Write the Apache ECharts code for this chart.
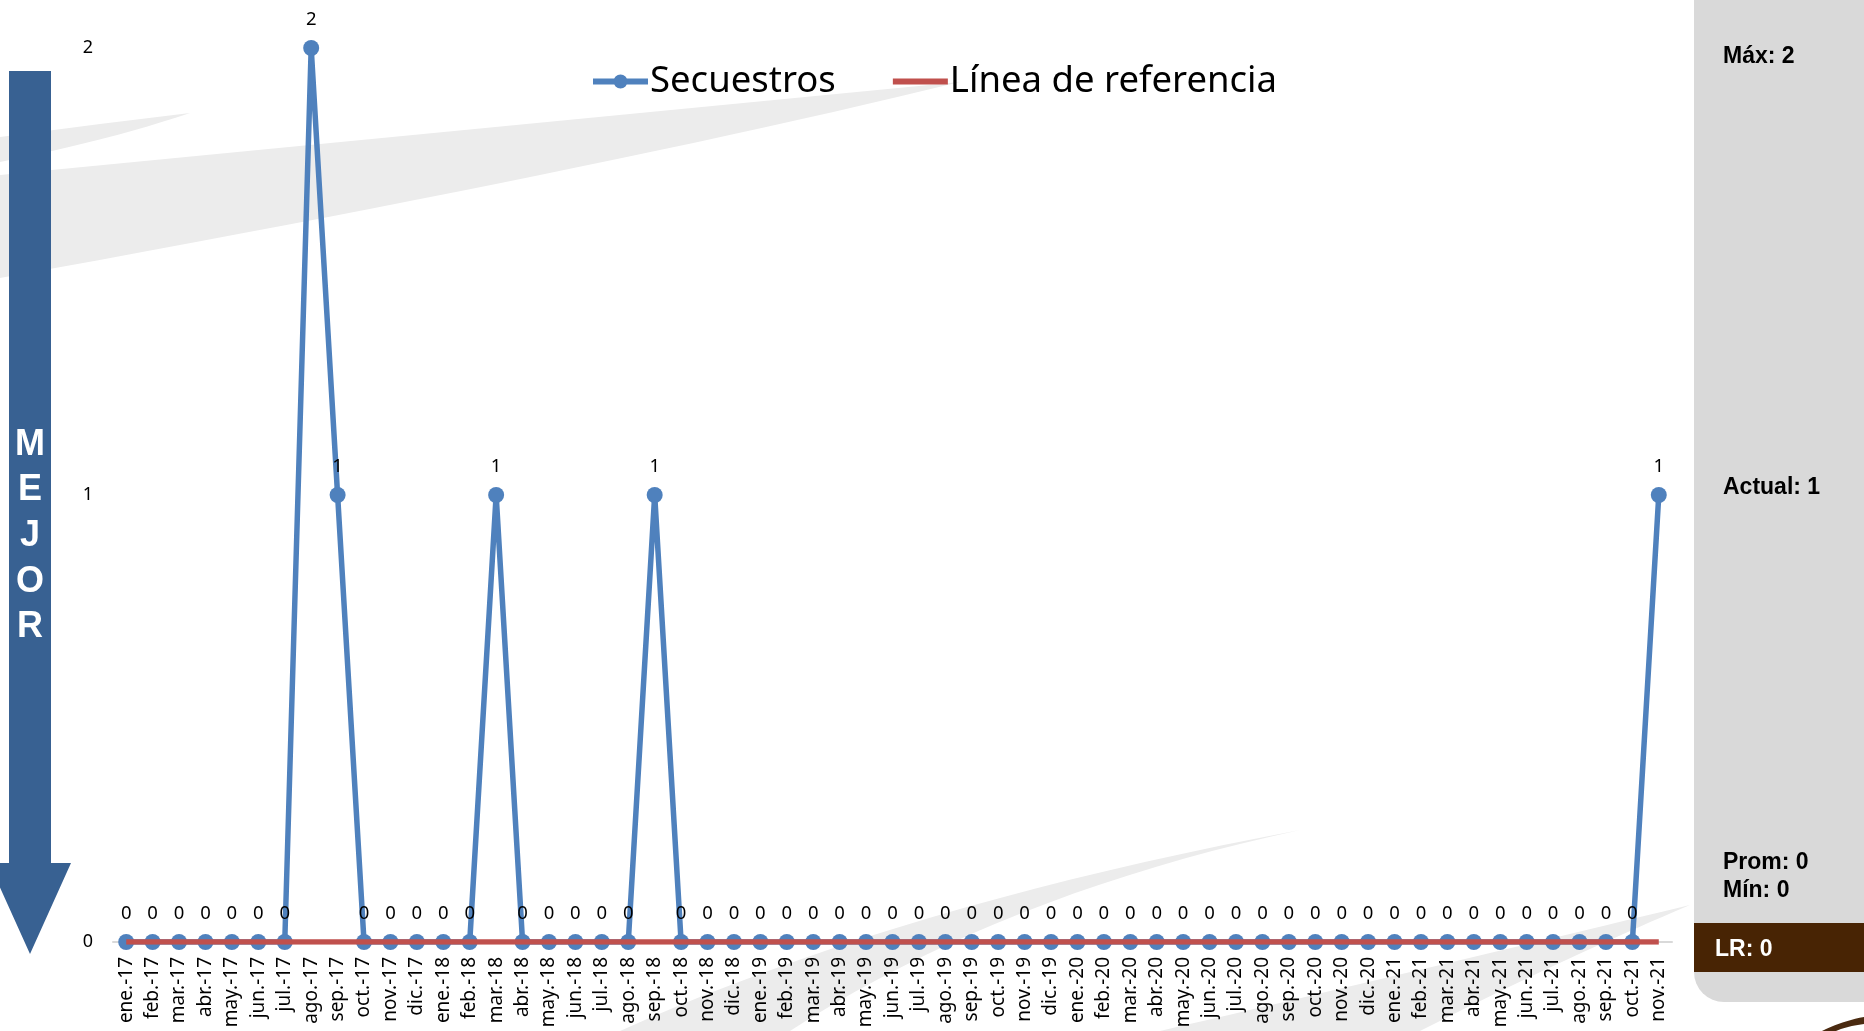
<!DOCTYPE html>
<html>
<head>
<meta charset="utf-8">
<script src="https://cdn.jsdelivr.net/npm/echarts@6.0.0/dist/echarts.min.js"></script>
<style>
html,body{margin:0;padding:0;background:#fff;}
#chart{width:1864px;height:1031px;}
</style>
</head>
<body>
<div id="chart"></div>
<script>
const categories = [
  'ene.-17','feb.-17','mar.-17','abr.-17','may.-17','jun.-17','jul.-17','ago.-17','sep.-17','oct.-17','nov.-17','dic.-17',
  'ene.-18','feb.-18','mar.-18','abr.-18','may.-18','jun.-18','jul.-18','ago.-18','sep.-18','oct.-18','nov.-18','dic.-18',
  'ene.-19','feb.-19','mar.-19','abr.-19','may.-19','jun.-19','jul.-19','ago.-19','sep.-19','oct.-19','nov.-19','dic.-19',
  'ene.-20','feb.-20','mar.-20','abr.-20','may.-20','jun.-20','jul.-20','ago.-20','sep.-20','oct.-20','nov.-20','dic.-20',
  'ene.-21','feb.-21','mar.-21','abr.-21','may.-21','jun.-21','jul.-21','ago.-21','sep.-21','oct.-21','nov.-21'
];
const secuestros = [
  0,0,0,0,0,0,0,2,1,0,0,0,
  0,0,1,0,0,0,0,0,1,0,0,0,
  0,0,0,0,0,0,0,0,0,0,0,0,
  0,0,0,0,0,0,0,0,0,0,0,0,
  0,0,0,0,0,0,0,0,0,0,1
];
const referencia = [
  0,0,0,0,0,0,0,0,0,0,0,0,
  0,0,0,0,0,0,0,0,0,0,0,0,
  0,0,0,0,0,0,0,0,0,0,0,0,
  0,0,0,0,0,0,0,0,0,0,0,0,
  0,0,0,0,0,0,0,0,0,0,0
];
const yTicks = [0, 1, 2];
const statLabels = ['Máx: 2', 'Actual: 1', 'Prom: 0', 'Mín: 0', 'LR: 0'];
const arrowText = ['M','E','J','O','R'];

// quadratic curve sampler for decorative shapes
function quad(p0, c, p1, n) {
  const pts = [];
  for (let i = 0; i <= n; i++) {
    const t = i / n, u = 1 - t;
    pts.push([u*u*p0[0] + 2*u*t*c[0] + t*t*p1[0], u*u*p0[1] + 2*u*t*c[1] + t*t*p1[1]]);
  }
  return pts;
}

const chart = echarts.init(document.getElementById('chart'), null, {renderer: 'canvas'});
const swoosh = '#ececec';
const font = 'Noto Sans';
const statFont = 'bold 23px "Liberation Sans"';

const sw1 = [[0,137],[100,124],[190,113]].concat(quad([190,113],[110,140],[0,162],12));
const sw2 = [[0,175]].concat(quad([960,82],[600,170],[0,278],24));
const sw3 = quad([1300,830],[900,905],[620,1031],20).concat(quad([790,1031],[1000,895],[1300,830],20));
const sw4 = quad([1690,905],[1400,975],[1160,1031],20).concat(quad([1420,1031],[1560,960],[1690,905],20));
const sw5 = quad([1822,1031],[1842,1021],[1864,1017],10).concat(quad([1864,1024],[1848,1026],[1836,1031],10));

const option = {
  animation: false,
  backgroundColor: '#ffffff',
  graphic: [
    {type:'polygon', z:-10, shape:{points:sw1}, style:{fill:swoosh}},
    {type:'polygon', z:-10, shape:{points:sw2}, style:{fill:swoosh}},
    {type:'polygon', z:-10, shape:{points:sw3}, style:{fill:swoosh}},
    {type:'polygon', z:-10, shape:{points:sw4}, style:{fill:swoosh}},
    {type:'polygon', z:-10, shape:{points:sw5}, style:{fill:'#4a2a10'}},
    // side panel
    {type:'rect', z:-5, shape:{x:1694, y:-40, width:180, height:1042, r:[0,0,0,30]}, style:{fill:'#d9d9d9'}},
    {type:'rect', z:-4, shape:{x:1694, y:923, width:180, height:49}, style:{fill:'#482404'}},
    {type:'text', z:5, style:{x:1723, y:57, text:statLabels[0], font:statFont, fill:'#000', textVerticalAlign:'middle'}},
    {type:'text', z:5, style:{x:1723, y:488, text:statLabels[1], font:statFont, fill:'#000', textVerticalAlign:'middle'}},
    {type:'text', z:5, style:{x:1723, y:863, text:statLabels[2], font:statFont, fill:'#000', textVerticalAlign:'middle'}},
    {type:'text', z:5, style:{x:1723, y:891, text:statLabels[3], font:statFont, fill:'#000', textVerticalAlign:'middle'}},
    {type:'text', z:5, style:{x:1715, y:950, text:statLabels[4], font:statFont, fill:'#fff', textVerticalAlign:'middle'}},
    // MEJOR arrow
    {type:'polygon', z:1, shape:{points:[[9,71],[51,71],[51,863],[71,863],[30,954],[-11,863],[9,863]]}, style:{fill:'#386192'}},
    {type:'text', z:2, style:{x:30, y:536, text:arrowText.join('\n'), font:'bold 36px "Liberation Sans"', lineHeight:45.7, fill:'#fff', align:'center', verticalAlign:'middle'}}
  ],
  legend: {
    left: 588, top: 58, itemGap: 57, itemWidth: 55, itemHeight: 14,
    textStyle: {fontSize: 36.5, fontFamily: font, color: '#000', padding:[0,0,0,-3]},
    data: [
      {name: 'Secuestros', icon: 'path://M0,4 L55,4 L55,10 L0,10 Z M20.5,7 A7,7 0 1,1 34.5,7 A7,7 0 1,1 20.5,7 Z', itemStyle: {color: '#4f81bd'}},
      {name: 'Línea de referencia', icon: 'path://M0,0 L55,0 L55,6 L0,6 Z', itemStyle: {color: '#c0504d'}}
    ]
  },
  grid: {left: 113, right: 192, top: 48, bottom: 89},
  xAxis: {
    type: 'category', data: categories, boundaryGap: true,
    axisLine: {lineStyle: {color: '#d9d9d9', width: 2}},
    axisTick: {show: false},
    axisLabel: {rotate: 90, interval: 0, fontSize: 19, margin: 15, color: '#000', fontFamily: font}
  },
  yAxis: {
    type: 'value', min: 0, max: 2, interval: 1,
    splitLine: {show: false}, axisLine: {show: false}, axisTick: {show: false},
    axisLabel: {fontSize: 18, margin: 20, color: '#000', fontFamily: font,
      formatter: v => yTicks.includes(v) ? String(v) : ''}
  },
  series: [
    {
      name: 'Secuestros', type: 'line', data: secuestros, z: 2,
      symbol: 'circle', symbolSize: 16,
      lineStyle: {width: 5.5, color: '#4f81bd'},
      itemStyle: {color: '#4f81bd'},
      label: {show: true, position: 'top', distance: 11, fontSize: 18.5, color: '#000', fontFamily: font}
    },
    {
      name: 'Línea de referencia', type: 'line', data: referencia, z: 3,
      symbol: 'none', showSymbol: false,
      lineStyle: {width: 5.5, color: '#c0504d'},
      itemStyle: {color: '#c0504d'}
    }
  ]
};
chart.setOption(option);
</script>
</body>
</html>
